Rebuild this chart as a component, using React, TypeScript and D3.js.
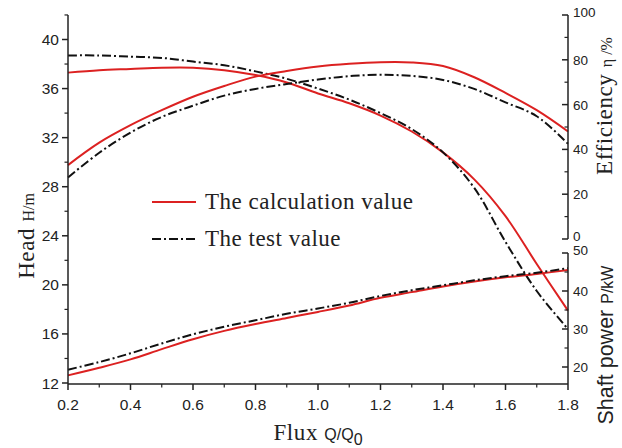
import React from "react";
import * as d3 from "d3";

// Flow ratio Q/Q0 sampled at each 0.1 step
const flux = [0.2, 0.3, 0.4, 0.5, 0.6, 0.7, 0.8, 0.9, 1.0, 1.1, 1.2, 1.3, 1.4, 1.5, 1.6, 1.7, 1.8];

// Head H (m)
const headCalc = [37.3, 37.5, 37.6, 37.7, 37.7, 37.5, 37.1, 36.5, 35.6, 34.8, 33.8, 32.5, 30.8, 28.6, 25.6, 21.7, 17.9];
const headTest = [38.7, 38.7, 38.6, 38.5, 38.2, 37.9, 37.4, 36.8, 36.0, 35.1, 34.0, 32.7, 30.8, 27.9, 23.5, 19.5, 16.4];

// Efficiency η (%)
const effCalc = [33, 43, 50.8, 57.5, 63.5, 68.3, 72.5, 75, 77, 78.2, 78.9, 78.8, 77.2, 72.2, 65.2, 57.5, 48];
const effTest = [27.5, 38.5, 47.5, 54.5, 59.5, 64, 67, 69.2, 71.2, 72.7, 73.3, 72.8, 71, 67, 61, 54.8, 42.5];

// Shaft power P (kW)
const powerCalc = [17.8, 19.8, 22, 24.7, 27.3, 29.5, 31.3, 32.9, 34.5, 36.2, 38.2, 39.7, 41.2, 42.5, 43.6, 44.5, 45.5];
const powerTest = [19.3, 21.3, 23.6, 26.2, 28.6, 30.6, 32.3, 34, 35.4, 36.9, 38.7, 40.2, 41.5, 42.8, 43.9, 44.8, 46];

const xTicks = [0.2, 0.4, 0.6, 0.8, 1.0, 1.2, 1.4, 1.6, 1.8];
const headTicks = [12, 16, 20, 24, 28, 32, 36, 40];
const effTicks = [0, 20, 40, 60, 80, 100];
const powerTicks = [20, 30, 40, 50];

const legendLabels = ["The calculation value", "The test value"];

const RED = "#dc2121";
const BLACK = "#111";
const TEST_DASH = "9,3,2,3";
const SERIF = "'Liberation Serif', 'DejaVu Serif', serif";
const SANS = "'Liberation Sans', Arial, sans-serif";

export default function App() {
  const W = 622;
  const H = 448;
  const left = 68;
  const right = 568;
  const bottom = 384;

  const x = d3.scaleLinear().domain([0.2, 1.8]).range([left, right]);
  const yHead = d3.scaleLinear().domain([12, 40]).range([383, 39.5]);
  const yEff = d3.scaleLinear().domain([0, 100]).range([239, 15]);
  const yPow = d3.scaleLinear().domain([20, 50]).range([367, 253]);

  const makeLine = (yScale: d3.ScaleLinear<number, number>, vals: number[]) =>
    d3
      .line<number>()
      .x((_, i) => x(flux[i]))
      .y((v) => yScale(v))
      .curve(d3.curveCatmullRom.alpha(0.5))(vals) as string;

  const series = [
    { d: makeLine(yHead, headCalc), stroke: RED, dash: undefined },
    { d: makeLine(yHead, headTest), stroke: BLACK, dash: TEST_DASH },
    { d: makeLine(yEff, effCalc), stroke: RED, dash: undefined },
    { d: makeLine(yEff, effTest), stroke: BLACK, dash: TEST_DASH },
    { d: makeLine(yPow, powerCalc), stroke: RED, dash: undefined },
    { d: makeLine(yPow, powerTest), stroke: BLACK, dash: TEST_DASH },
  ];

  const xMinor = d3.range(0.3, 1.8, 0.2);
  const headMinor = [14, 18, 22, 26, 30, 34, 38, 42];
  const effMinor = [10, 30, 50, 70, 90];
  const powMinor = [25, 35, 45];

  const tickLabel = { fontFamily: SANS, fontSize: 15.5, fill: "#222" };

  return (
    <svg width={W} height={H} style={{ position: "absolute", left: 0, top: 0, background: "#fff" }}>
      {/* data curves */}
      {series.map((s, i) => (
        <path
          key={i}
          d={s.d}
          fill="none"
          stroke={s.stroke}
          strokeWidth={2}
          strokeDasharray={s.dash}
        />
      ))}

      {/* bottom axis */}
      <line x1={left} x2={right} y1={bottom} y2={bottom} stroke="#222" strokeWidth={1.5} />
      {xTicks.map((t) => (
        <g key={"xt" + t}>
          <line x1={x(t)} x2={x(t)} y1={bottom} y2={bottom + 6} stroke="#222" strokeWidth={1.5} />
          <text x={x(t)} y={410} textAnchor="middle" {...tickLabel}>
            {t.toFixed(1)}
          </text>
        </g>
      ))}
      {xMinor.map((t) => (
        <line key={"xm" + t} x1={x(t)} x2={x(t)} y1={bottom} y2={bottom + 3.5} stroke="#222" strokeWidth={1.2} />
      ))}

      {/* left head axis */}
      <line x1={left} x2={left} y1={15} y2={bottom} stroke="#222" strokeWidth={1.5} />
      {headTicks.map((t) => (
        <g key={"ht" + t}>
          <line x1={left - 6} x2={left} y1={yHead(t)} y2={yHead(t)} stroke="#222" strokeWidth={1.5} />
          <text x={left - 9} y={yHead(t) + 5.5} textAnchor="end" {...tickLabel}>
            {t}
          </text>
        </g>
      ))}
      {headMinor.map((t) => (
        <line key={"hm" + t} x1={left - 3.5} x2={left} y1={yHead(t)} y2={yHead(t)} stroke="#222" strokeWidth={1.2} />
      ))}

      {/* right efficiency axis */}
      <line x1={right} x2={right} y1={yEff(100)} y2={yEff(0)} stroke="#222" strokeWidth={1.5} />
      {effTicks.map((t) => (
        <g key={"et" + t}>
          <line x1={right - 6} x2={right} y1={yEff(t)} y2={yEff(t)} stroke="#222" strokeWidth={1.5} />
          <text x={right + 5} y={yEff(t) + (t === 0 ? 2 : t === 100 ? 2 : 5)} textAnchor="start" fontFamily={SANS} fontSize={13.5} fill="#222">
            {t}
          </text>
        </g>
      ))}
      {effMinor.map((t) => (
        <line key={"em" + t} x1={right - 3.5} x2={right} y1={yEff(t)} y2={yEff(t)} stroke="#222" strokeWidth={1.2} />
      ))}

      {/* right shaft power axis */}
      <line x1={right} x2={right} y1={yPow(50)} y2={bottom} stroke="#222" strokeWidth={1.5} />
      {powerTicks.map((t) => (
        <g key={"pt" + t}>
          <line x1={right - 6} x2={right} y1={yPow(t)} y2={yPow(t)} stroke="#222" strokeWidth={1.5} />
          <text x={right + 5} y={yPow(t) + (t === 50 ? 2 : 5)} textAnchor="start" fontFamily={SANS} fontSize={13.5} fill="#222">
            {t}
          </text>
        </g>
      ))}
      {powMinor.map((t) => (
        <line key={"pm" + t} x1={right - 3.5} x2={right} y1={yPow(t)} y2={yPow(t)} stroke="#222" strokeWidth={1.2} />
      ))}

      {/* axis titles */}
      <text transform="translate(34,236) rotate(-90)" textAnchor="middle" fill="#222">
        <tspan fontFamily={SERIF} fontSize={23} letterSpacing={0.6}>Head </tspan>
        <tspan fontFamily={SERIF} fontSize={16}>H/m</tspan>
      </text>
      <text transform="translate(612,106) rotate(-90)" textAnchor="middle" fill="#222">
        <tspan fontFamily={SERIF} fontSize={23} letterSpacing={0.6}>Efficiency </tspan>
        <tspan fontFamily={SERIF} fontSize={16}>η /%</tspan>
      </text>
      <text transform="translate(613,345) rotate(-90)" textAnchor="middle" fill="#222">
        <tspan fontFamily={SANS} fontSize={21.5}>Shaft power </tspan>
        <tspan fontFamily={SANS} fontSize={16}>P/kW</tspan>
      </text>
      <text x={318} y={440} textAnchor="middle" fill="#222">
        <tspan fontFamily={SERIF} fontSize={23} letterSpacing={0.6}>Flux </tspan>
        <tspan fontFamily={SANS} fontSize={16}>Q/Q</tspan>
        <tspan fontFamily={SANS} fontSize={16} dy={5}>0</tspan>
      </text>

      {/* legend */}
      <line x1={152} x2={196} y1={202} y2={202} stroke={RED} strokeWidth={2} />
      <text x={205} y={209} fontFamily={SERIF} fontSize={23} letterSpacing={0.5} fill="#222">
        {legendLabels[0]}
      </text>
      <line x1={152} x2={196} y1={239} y2={239} stroke={BLACK} strokeWidth={2} strokeDasharray={TEST_DASH} />
      <text x={205} y={246} fontFamily={SERIF} fontSize={23} letterSpacing={0.5} fill="#222">
        {legendLabels[1]}
      </text>
    </svg>
  );
}
